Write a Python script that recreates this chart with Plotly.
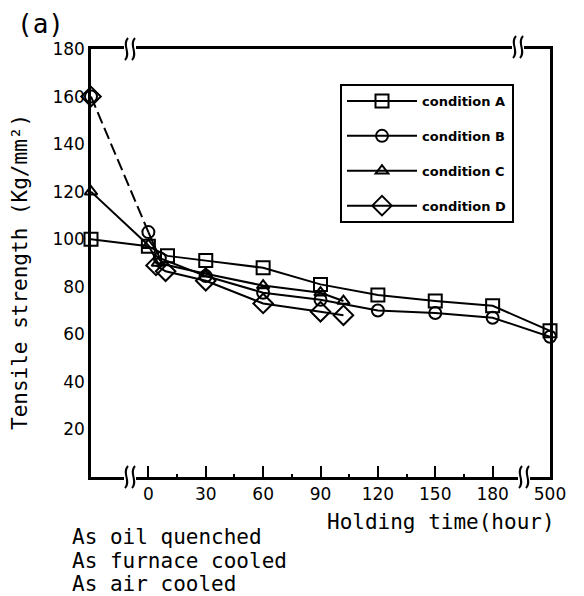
import plotly.graph_objects as go

# ---------------- data ----------------
tick_hours = [0, 30, 60, 90, 120, 150, 180, 500]
tick_labels = ["0", "30", "60", "90", "120", "150", "180", "500"]
y_ticks = [20, 40, 60, 80, 100, 120, 140, 160, 180]
y_tick_labels = ["20", "40", "60", "80", "100", "120", "140", "160", "180"]

# as-treated (before holding) strengths
A_start = 100
B_start = 160
C_start = 120
D_start = 160

A_hours = [0, 10, 30, 60, 90, 120, 150, 180, 500]
A_vals = [97, 93, 91, 88, 81, 76.5, 74, 72, 61.5]

B_hours = [0, 6, 30, 60, 90, 120, 150, 180, 500]
B_vals = [103, 92, 84.5, 77.5, 74.5, 70, 69, 67, 59]

C_hours = [0, 5, 30, 60, 90, 102]
C_vals = [97.5, 90, 85.5, 80.5, 77.5, 74]

D_hours = [4, 9, 30, 60, 90, 102]
D_vals = [89, 86.5, 82.5, 73, 69.5, 68]

names = ["condition A", "condition B", "condition C", "condition D"]
notes = ["As oil quenched", "As furnace cooled", "As air cooled"]

# ---------------- axis scale with breaks ----------------
START_POS = -30      # position of the "as treated" points (left axis)
BREAK_POS = 210      # position where 500 h is drawn (after axis break)


def pos(h):
    return h if h <= 180 else BREAK_POS


fig = go.Figure()

line_style = dict(color="black", width=2)

series = [
    (names[0], A_start, A_hours, A_vals, "square-open", 13, "solid"),
    (names[1], B_start, B_hours, B_vals, "circle-open", 12, "12px,5px"),
    (names[2], C_start, C_hours, C_vals, "triangle-up-open", 11, "solid"),
    (names[3], D_start, D_hours, D_vals, "diamond-open", 15, None),
]

for i, (nm, st, hrs, vals, sym, sz, first_dash) in enumerate(series):
    xs = [pos(h) for h in hrs]
    marker = dict(symbol=sym, size=sz, color="black",
                  line=dict(color="black", width=2))
    if first_dash is not None:
        fig.add_trace(go.Scatter(
            x=[START_POS, xs[0]], y=[st, vals[0]], mode="lines",
            line=dict(color="black", width=2, dash=first_dash),
            showlegend=False, hoverinfo="skip", cliponaxis=False))
    fig.add_trace(go.Scatter(
        x=[START_POS], y=[st], mode="markers", marker=marker,
        showlegend=False, cliponaxis=False))
    fig.add_trace(go.Scatter(
        x=xs, y=vals, mode="lines+markers", name="<b>" + nm + "</b>",
        line=line_style, marker=marker, cliponaxis=False,
        legendgroup=nm))

# ---------------- layout ----------------
# plot area edges in reference-image pixels
L, R, T, B = 91, 550, 49, 477
OFF = 8                      # page body margin of the browser
W, H = 584 - OFF, 596 - OFF


def px(x):
    return (x - L) / (R - L)


def py(y):
    return (B - y) / (B - T)


sans = "DejaVu Sans"
mono = "DejaVu Sans Mono"

fig.update_layout(
    width=W, height=H,
    margin=dict(l=L - OFF, r=584 - R, t=T - OFF, b=596 - B, pad=0),
    paper_bgcolor="white", plot_bgcolor="white",
    font=dict(family=sans, color="black", size=17),
    showlegend=True,
    legend=dict(
        x=px(340), y=py(84), xanchor="left", yanchor="top",
        bordercolor="black", borderwidth=2, bgcolor="white",
        font=dict(size=13, family=sans),
        itemwidth=70, tracegroupgap=15, traceorder="grouped",
    ),
    xaxis=dict(
        range=[START_POS, BREAK_POS],
        tickmode="array",
        tickvals=[pos(h) for h in tick_hours],
        ticktext=tick_labels,
        ticks="inside", ticklen=11, tickwidth=2, tickcolor="black",
        minor=dict(tickmode="array", tickvals=[15, 45, 75, 105, 135, 165],
                   ticks="inside", ticklen=3, tickwidth=2, tickcolor="black"),
        showline=True, linecolor="black", linewidth=2.5, mirror=True,
        showgrid=False, zeroline=False, automargin=False,
        tickfont=dict(size=17, family=sans),
    ),
    yaxis=dict(
        range=[0, 180],
        tickmode="array", tickvals=y_ticks, ticktext=y_tick_labels,
        ticks="", showline=True, linecolor="black", linewidth=2.5, mirror=True,
        showgrid=False, zeroline=False, automargin=False,
        tickfont=dict(size=17, family=sans),
    ),
)

ann = []
ann.append(dict(text="(a)", x=px(40), y=py(24), xref="paper", yref="paper",
                xanchor="center", yanchor="middle", showarrow=False,
                borderpad=0,
                font=dict(size=26, family=mono)))
ann.append(dict(text="Tensile strength (Kg/mm²)", x=px(20), y=py(272),
                xref="paper", yref="paper", textangle=-90,
                xanchor="center", yanchor="middle", showarrow=False,
                borderpad=0,
                font=dict(size=21, family=mono)))
ann.append(dict(text="Holding time(hour)", x=px(557), y=py(522),
                xref="paper", yref="paper", xanchor="right", yanchor="middle",
                showarrow=False, font=dict(size=21, family=mono)))
for txt, yy in zip(notes, [537, 561, 584]):
    ann.append(dict(text=txt, x=px(71), y=py(yy), xref="paper", yref="paper",
                    xanchor="left", yanchor="middle", showarrow=False,
                    borderpad=0,
                    font=dict(size=21, family=mono)))

# axis break marks: white gap + two wavy strokes
shapes = []
for bx, by in [(130, 477), (524, 477), (130, 49), (518, 47)]:
    shapes.append(dict(type="rect", xref="paper", yref="paper",
                       x0=px(bx - 6), x1=px(bx + 6), y0=py(by + 3), y1=py(by - 3),
                       fillcolor="white", line=dict(width=0), layer="above"))
    for dx in (-3.5, 3.5):
        x = bx + dx
        path = (f"M {px(x - 1.5)},{py(by + 11)} "
                f"C {px(x + 5)},{py(by + 4)} {px(x - 5)},{py(by - 4)} "
                f"{px(x + 1.5)},{py(by - 11)}")
        shapes.append(dict(type="path", xref="paper", yref="paper", path=path,
                           line=dict(color="black", width=2), layer="above"))

fig.update_layout(annotations=ann, shapes=shapes)

fig.write_html("out.html")
